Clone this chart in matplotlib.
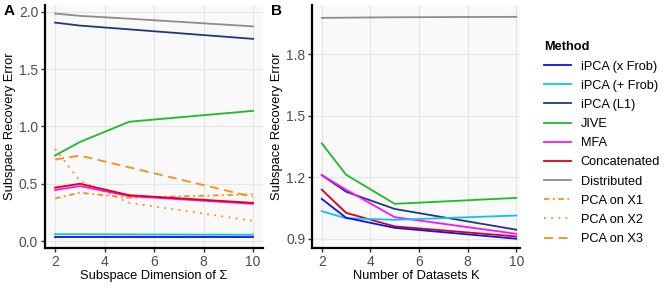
import matplotlib
matplotlib.use("Agg")
import matplotlib.pyplot as plt
from matplotlib.lines import Line2D

plt.rcParams['font.family'] = ['Liberation Sans', 'DejaVu Sans']

methods = ["iPCA (x Frob)", "iPCA (+ Frob)", "iPCA (L1)", "JIVE", "MFA",
           "Concatenated", "Distributed", "PCA on X1", "PCA on X2", "PCA on X3"]
colors = ["#1010F0", "#10BFFF", "#1F3A78", "#1DBA2A", "#FF10FF",
          "#E00010", "#8C8C8C", "#FF8C1A", "#FF8C1A", "#FF8C1A"]
styles = ["-", "-", "-", "-", "-", "-", "-", (0, (3, 2, 1, 2)), (0, (1, 3)), (0, (5, 3))]

# Panel A
dims = [2, 3, 5, 10]
a_vals = {
    "iPCA (x Frob)": [0.032, 0.032, 0.032, 0.032],
    "iPCA (+ Frob)": [0.060, 0.060, 0.058, 0.055],
    "iPCA (L1)": [1.906, 1.880, 1.847, 1.764],
    "JIVE": [0.746, 0.864, 1.041, 1.136],
    "MFA": [0.445, 0.480, 0.392, 0.325],
    "Concatenated": [0.466, 0.500, 0.400, 0.333],
    "Distributed": [1.985, 1.965, 1.940, 1.873],
    "PCA on X1": [0.372, 0.422, 0.378, 0.407],
    "PCA on X2": [0.805, 0.525, 0.333, 0.177],
    "PCA on X3": [0.711, 0.746, 0.643, 0.385],
}

# Panel B
ks = [2, 3, 5, 10]
b_vals = {
    "iPCA (x Frob)": [1.094, 1.002, 0.953, 0.900],
    "iPCA (+ Frob)": [1.034, 1.000, 0.992, 1.013],
    "iPCA (L1)": [1.210, 1.129, 1.045, 0.944],
    "JIVE": [1.365, 1.212, 1.070, 1.099],
    "MFA": [1.210, 1.139, 1.005, 0.924],
    "Concatenated": [1.139, 1.026, 0.960, 0.911],
    "Distributed": [1.977, 1.978, 1.980, 1.982],
}

fig = plt.figure(figsize=(6.64, 2.91), dpi=100)
axA = fig.add_axes([0.068, 0.148, 0.328, 0.835])
axB = fig.add_axes([0.470, 0.148, 0.313, 0.835])

def style_ax(ax):
    ax.set_facecolor("#F9F9F9")
    ax.grid(True, color="#E6E6E6", linewidth=0.8)
    ax.set_axisbelow(True)
    for s in ["top", "right"]:
        ax.spines[s].set_visible(False)
    for s in ["left", "bottom"]:
        ax.spines[s].set_linewidth(1.6)
        ax.spines[s].set_color("black")
    ax.tick_params(axis="both", labelsize=10, labelcolor="#4D4D4D", length=3, width=1,
                   color="#333333", pad=2)

draw_order = ["Distributed", "iPCA (L1)", "JIVE", "PCA on X3", "PCA on X2", "PCA on X1",
              "MFA", "Concatenated", "iPCA (+ Frob)", "iPCA (x Frob)"]
for m in draw_order:
    i = methods.index(m)
    axA.plot(dims, a_vals[m], color=colors[i], linestyle=styles[i], linewidth=1.3)
for m in draw_order:
    if m in b_vals:
        i = methods.index(m)
        axB.plot(ks, b_vals[m], color=colors[i], linestyle=styles[i], linewidth=1.3)

style_ax(axA)
style_ax(axB)
axA.set_xlim(1.6, 10.4)
axA.set_ylim(-0.06, 2.06)
axA.set_xticks([2, 4, 6, 8, 10])
axA.set_yticks([0.0, 0.5, 1.0, 1.5, 2.0])
axA.set_yticklabels(["0.0", "0.5", "1.0", "1.5", "2.0"])
axA.set_xlabel("Subspace Dimension of Σ", fontsize=9.3, labelpad=1)
axA.set_ylabel("Subspace Recovery Error", fontsize=9.3, labelpad=2)

axB.set_xlim(1.6, 10.15)
axB.set_ylim(0.855, 2.04)
axB.set_xticks([2, 4, 6, 8, 10])
axB.set_yticks([0.9, 1.2, 1.5, 1.8])
axB.set_yticklabels(["0.9", "1.2", "1.5", "1.8"])
axB.set_xlabel("Number of Datasets K", fontsize=9.3, labelpad=1)
axB.set_ylabel("Subspace Recovery Error", fontsize=9.3, labelpad=2)

fig.text(0.005, 0.985, "A", fontsize=11, fontweight="bold", va="top", ha="left")
fig.text(0.408, 0.985, "B", fontsize=11, fontweight="bold", va="top", ha="left")

handles = [Line2D([0], [0], color=colors[i], linestyle=styles[i], linewidth=1.3) for i in range(len(methods))]
leg = fig.legend(handles, methods, loc="upper left", bbox_to_anchor=(0.812, 0.875),
                 frameon=False, fontsize=9.2, title="Method", handlelength=2.1,
                 handletextpad=0.75, labelspacing=0.56, borderaxespad=0)
leg.get_title().set_fontweight("bold")
leg.get_title().set_fontsize(9.2)
leg._legend_box.align = "left"

fig.savefig("out.png", dpi=100)
